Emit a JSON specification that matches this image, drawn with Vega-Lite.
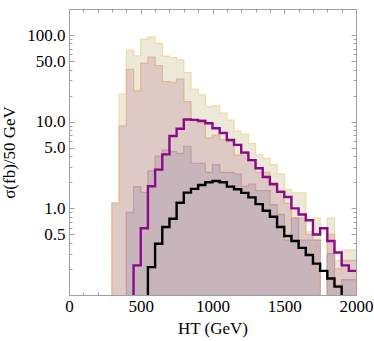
{
  "$schema": "https://vega.github.io/schema/vega-lite/v6.json",
  "autosize": {"type": "none"},
  "padding": {"left": 69, "top": 9, "right": 18, "bottom": 46},
  "width": 287,
  "height": 286,
  "config": {
    "view": {"stroke": "#a0a0a0", "strokeWidth": 1},
    "axis": {"domain": false, "grid": false, "tickColor": "#a0a0a0", "labelFont": "Liberation Serif", "titleFont": "Liberation Serif", "labelFontSize": 17, "titleFontSize": 17, "labelColor": "#000000", "titleColor": "#000000", "titleFontWeight": "normal"}
  },
  "datasets": {
    "A": [
      {"x": 250, "v": 0.05}, {"x": 300, "v": 1.15}, {"x": 350, "v": 20.8}, {"x": 400, "v": 67}, {"x": 450, "v": 57.6},
      {"x": 500, "v": 90}, {"x": 550, "v": 95}, {"x": 600, "v": 80}, {"x": 650, "v": 57}, {"x": 700, "v": 55},
      {"x": 750, "v": 51.8}, {"x": 800, "v": 36.9}, {"x": 850, "v": 23.8}, {"x": 900, "v": 20.4}, {"x": 950, "v": 14.9},
      {"x": 1000, "v": 15.2}, {"x": 1050, "v": 12.6}, {"x": 1100, "v": 10.4}, {"x": 1150, "v": 7.8}, {"x": 1200, "v": 7.2},
      {"x": 1250, "v": 5.6}, {"x": 1300, "v": 4.14}, {"x": 1350, "v": 3.78}, {"x": 1400, "v": 3.2}, {"x": 1450, "v": 2.5},
      {"x": 1500, "v": 1.66}, {"x": 1550, "v": 1.51}, {"x": 1600, "v": 1.51}, {"x": 1650, "v": 0.54}, {"x": 1700, "v": 0.77},
      {"x": 1750, "v": 0.05}, {"x": 1800, "v": 0.77}, {"x": 1850, "v": 0.25}, {"x": 1900, "v": 0.33}, {"x": 1950, "v": 0.33},
      {"x": 2000, "v": 0.33}
    ],
    "B": [
      {"x": 250, "v": 0.05}, {"x": 300, "v": 1.15}, {"x": 350, "v": 8.95}, {"x": 400, "v": 40.3}, {"x": 450, "v": 22.7},
      {"x": 500, "v": 47.5}, {"x": 550, "v": 55.7}, {"x": 600, "v": 44.3}, {"x": 650, "v": 29.1}, {"x": 700, "v": 28.4},
      {"x": 750, "v": 31}, {"x": 800, "v": 17.1}, {"x": 850, "v": 10.5}, {"x": 900, "v": 10.5}, {"x": 950, "v": 6.5},
      {"x": 1000, "v": 7}, {"x": 1050, "v": 6.2}, {"x": 1100, "v": 5.9}, {"x": 1150, "v": 4.1}, {"x": 1200, "v": 4.5},
      {"x": 1250, "v": 3.5}, {"x": 1300, "v": 2.6}, {"x": 1350, "v": 2.6}, {"x": 1400, "v": 2.0}, {"x": 1450, "v": 1.6},
      {"x": 1500, "v": 1.14}, {"x": 1550, "v": 0.77}, {"x": 1600, "v": 0.77}, {"x": 1650, "v": 0.5}, {"x": 1700, "v": 0.2},
      {"x": 1750, "v": 0.05}, {"x": 1800, "v": 0.5}, {"x": 1850, "v": 0.2}, {"x": 1900, "v": 0.25}, {"x": 1950, "v": 0.25},
      {"x": 2000, "v": 0.25}
    ],
    "C": [
      {"x": 350, "v": 0.05}, {"x": 400, "v": 0.9}, {"x": 450, "v": 1.78}, {"x": 500, "v": 1.53}, {"x": 550, "v": 2.7},
      {"x": 600, "v": 4.0}, {"x": 650, "v": 4.7}, {"x": 700, "v": 4.5}, {"x": 750, "v": 4.3}, {"x": 800, "v": 5.2},
      {"x": 850, "v": 3.3}, {"x": 900, "v": 3.3}, {"x": 950, "v": 2.6}, {"x": 1000, "v": 3.2}, {"x": 1050, "v": 2.6},
      {"x": 1100, "v": 2.6}, {"x": 1150, "v": 2.5}, {"x": 1200, "v": 1.8}, {"x": 1250, "v": 1.9}, {"x": 1300, "v": 1.6},
      {"x": 1350, "v": 1.6}, {"x": 1400, "v": 1.1}, {"x": 1450, "v": 0.85}, {"x": 1500, "v": 0.43}, {"x": 1550, "v": 0.77},
      {"x": 1600, "v": 0.43}, {"x": 1650, "v": 0.43}, {"x": 1700, "v": 0.43}, {"x": 1750, "v": 0.05}, {"x": 1800, "v": 0.3},
      {"x": 1850, "v": 0.13}, {"x": 1900, "v": 0.15}, {"x": 1950, "v": 0.15}, {"x": 2000, "v": 0.15}
    ],
    "P": [
      {"x": 400, "v": 0.05}, {"x": 450, "v": 0.22}, {"x": 500, "v": 0.59}, {"x": 550, "v": 1.8}, {"x": 600, "v": 2.8},
      {"x": 650, "v": 4.2}, {"x": 700, "v": 6.85}, {"x": 750, "v": 8.3}, {"x": 800, "v": 10.6}, {"x": 850, "v": 10.5},
      {"x": 900, "v": 10.2}, {"x": 950, "v": 9.6}, {"x": 1000, "v": 8.4}, {"x": 1050, "v": 7.4}, {"x": 1100, "v": 6.16},
      {"x": 1150, "v": 5.4}, {"x": 1200, "v": 4.4}, {"x": 1250, "v": 3.6}, {"x": 1300, "v": 2.9}, {"x": 1350, "v": 2.3},
      {"x": 1400, "v": 1.9}, {"x": 1450, "v": 1.55}, {"x": 1500, "v": 1.35}, {"x": 1550, "v": 1.0}, {"x": 1600, "v": 0.85},
      {"x": 1650, "v": 0.73}, {"x": 1700, "v": 0.5}, {"x": 1750, "v": 0.59}, {"x": 1800, "v": 0.42}, {"x": 1850, "v": 0.31},
      {"x": 1900, "v": 0.22}, {"x": 1950, "v": 0.19}, {"x": 2000, "v": 0.19}
    ],
    "K": [
      {"x": 500, "v": 0.05}, {"x": 550, "v": 0.21}, {"x": 600, "v": 0.39}, {"x": 650, "v": 0.61}, {"x": 700, "v": 0.76},
      {"x": 750, "v": 1.16}, {"x": 800, "v": 1.52}, {"x": 850, "v": 1.68}, {"x": 900, "v": 1.86}, {"x": 950, "v": 2.0},
      {"x": 1000, "v": 2.07}, {"x": 1050, "v": 2.0}, {"x": 1100, "v": 1.78}, {"x": 1150, "v": 1.66}, {"x": 1200, "v": 1.51},
      {"x": 1250, "v": 1.34}, {"x": 1300, "v": 1.12}, {"x": 1350, "v": 0.94}, {"x": 1400, "v": 0.8}, {"x": 1450, "v": 0.61},
      {"x": 1500, "v": 0.48}, {"x": 1550, "v": 0.42}, {"x": 1600, "v": 0.35}, {"x": 1650, "v": 0.29}, {"x": 1700, "v": 0.23},
      {"x": 1750, "v": 0.19}, {"x": 1800, "v": 0.155}, {"x": 1850, "v": 0.125}, {"x": 1900, "v": 0.05}, {"x": 2000, "v": 0.05}
    ]
  },
  "resolve": {"axis": {"x": "independent", "y": "independent"}},
  "layer": [
    {
      "data": {"name": "A"},
      "mark": {"type": "area", "interpolate": "step-after", "color": "#EDE9DA", "clip": true},
      "encoding": {
        "x": {"field": "x", "type": "quantitative", "scale": {"domain": [0, 2000], "nice": false},
              "axis": {"orient": "bottom", "values": [0, 500, 1000, 1500, 2000], "format": "d", "tickSize": -5, "labelPadding": 8, "title": "HT (GeV)", "titlePadding": 6, "labelFlush": false}},
        "y": {"field": "v", "type": "quantitative", "scale": {"type": "log", "domain": [0.1, 200], "nice": false},
              "axis": {"orient": "left", "values": [0.5, 1, 5, 10, 50, 100], "format": ".1f", "tickSize": -5, "labelPadding": 9, "title": "σ(fb)/50 GeV", "titlePadding": 8, "labelFlush": false}},
        "y2": {"datum": 0.1}
      }
    },
    {
      "data": {"name": "B"},
      "mark": {"type": "area", "interpolate": "step-after", "color": "#DECAC4", "clip": true},
      "encoding": {
        "x": {"field": "x", "type": "quantitative", "axis": null},
        "y": {"field": "v", "type": "quantitative", "axis": null},
        "y2": {"datum": 0.1}
      }
    },
    {
      "data": {"name": "C"},
      "mark": {"type": "area", "interpolate": "step-after", "color": "#C7B5BB", "clip": true},
      "encoding": {
        "x": {"field": "x", "type": "quantitative", "axis": null},
        "y": {"field": "v", "type": "quantitative", "axis": null},
        "y2": {"datum": 0.1}
      }
    },
    {
      "data": {"name": "A"},
      "mark": {"type": "line", "interpolate": "step-after", "color": "#F2DBA3", "strokeWidth": 1.3, "clip": true},
      "encoding": {
        "x": {"field": "x", "type": "quantitative",
              "axis": {"orient": "top", "values": [0, 500, 1000, 1500, 2000], "tickSize": -5, "labels": false, "title": null}},
        "y": {"field": "v", "type": "quantitative",
              "axis": {"orient": "right", "values": [0.5, 1, 5, 10, 50, 100], "tickSize": -5, "labels": false, "title": null}}
      }
    },
    {
      "data": {"name": "B"},
      "mark": {"type": "line", "interpolate": "step-after", "color": "#E1B78E", "strokeWidth": 1.3, "clip": true},
      "encoding": {
        "x": {"field": "x", "type": "quantitative",
              "axis": {"orient": "bottom", "values": [100, 200, 300, 400, 600, 700, 800, 900, 1100, 1200, 1300, 1400, 1600, 1700, 1800, 1900], "tickSize": -3, "labels": false, "title": null}},
        "y": {"field": "v", "type": "quantitative",
              "axis": {"orient": "left", "values": [0.2, 0.3, 0.4, 0.6, 0.7, 0.8, 0.9, 2, 3, 4, 6, 7, 8, 9, 20, 30, 40, 60, 70, 80, 90], "tickSize": -3, "labels": false, "title": null}}
      }
    },
    {
      "data": {"name": "C"},
      "mark": {"type": "line", "interpolate": "step-after", "color": "#C49DA3", "strokeWidth": 1.3, "clip": true},
      "encoding": {
        "x": {"field": "x", "type": "quantitative",
              "axis": {"orient": "top", "values": [100, 200, 300, 400, 600, 700, 800, 900, 1100, 1200, 1300, 1400, 1600, 1700, 1800, 1900], "tickSize": -3, "labels": false, "title": null}},
        "y": {"field": "v", "type": "quantitative",
              "axis": {"orient": "right", "values": [0.2, 0.3, 0.4, 0.6, 0.7, 0.8, 0.9, 2, 3, 4, 6, 7, 8, 9, 20, 30, 40, 60, 70, 80, 90], "tickSize": -3, "labels": false, "title": null}}
      }
    },
    {
      "data": {"name": "P"},
      "mark": {"type": "line", "interpolate": "step-after", "color": "#8A0A8A", "strokeWidth": 2.4, "clip": true},
      "encoding": {
        "x": {"field": "x", "type": "quantitative", "axis": null},
        "y": {"field": "v", "type": "quantitative", "axis": null}
      }
    },
    {
      "data": {"name": "K"},
      "mark": {"type": "line", "interpolate": "step-after", "color": "#000000", "strokeWidth": 2.4, "clip": true},
      "encoding": {
        "x": {"field": "x", "type": "quantitative", "axis": null},
        "y": {"field": "v", "type": "quantitative", "axis": null}
      }
    }
  ]
}
